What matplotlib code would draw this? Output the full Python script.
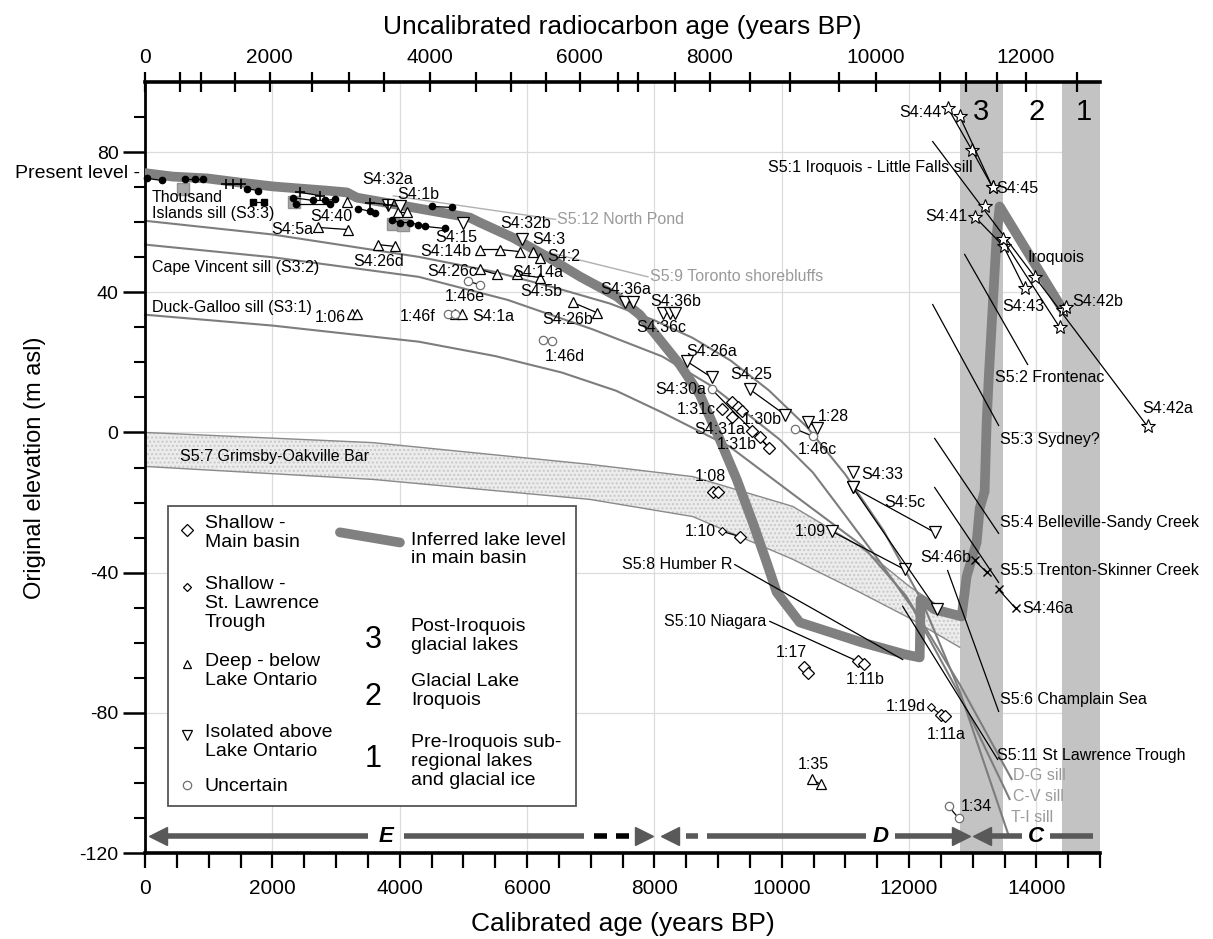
import matplotlib
matplotlib.use("Agg")
import matplotlib.pyplot as plt
from matplotlib import font_manager
from matplotlib.patches import Rectangle

# ---------------------------------------------------------------- fonts
_names = {f.name for f in font_manager.fontManager.ttflist}
SANS = "Liberation Sans" if "Liberation Sans" in _names else "DejaVu Sans"
NARROW = "Liberation Sans Narrow" if "Liberation Sans Narrow" in _names else SANS
plt.rcParams["font.family"] = SANS

# ---------------------------------------------------------------- data
# inferred lake level in main basin (calibrated yr BP, m asl)
LAKE_T = [0, 440, 973, 1492, 2010, 2857, 3171, 3328, 4113, 5103, 5260, 5778,
          6311, 6830, 7411, 7771, 8085, 8399, 8714, 9028, 9294, 9546, 9765, 9922,
          10284, 11257, 11932, 12168, 12183, 12403, 12827, 12905, 13062,
          13110, 13188, 13219, 13251, 13376, 13424, 14413]
LAKE_E = [74.0, 73.0, 72.5, 71.3, 70.2, 69.0, 68.5, 67.0, 64.5, 61.3, 59.9,
          55.6, 50.2, 44.5, 38.8, 33.6, 26.5, 19.4, 10.8, -2.0, -13.4, -25.7,
          -37.1, -45.6, -54.2, -59.9, -63.3, -64.2, -47.6, -50.5, -52.5, -41.1,
          -31.4, -21.7, -16.8, 2.6, 15.1, 55.9, 64.5, 35.1]

# sill curves
TI_T = [0, 2000, 4300, 5500, 6500, 7300, 8000, 8600, 9200, 9800, 10400, 11000,
        11600, 12200, 12800, 13565]
TI_E = [60.4, 56.5, 50.1, 45.8, 41.0, 36.8, 32.0, 27.0, 20.5, 12.0, 1.5, -12.0,
        -28.0, -48.0, -74.0, -115.0]
CV_T = [0, 2000, 4300, 5700, 7034, 8123, 8912, 9432, 9968, 10489, 11009, 11546,
        12066, 12800, 13580]
CV_E = [53.6, 50.0, 44.4, 37.8, 29.4, 21.7, 13.1, 5.7, -2.0, -11.4, -23.9, -37.0,
        -50.4, -75.0, -104.6]
DG_T = [0, 2000, 4300, 5500, 6546, 7400, 8123, 9180, 10221, 11278, 11956, 12800,
        13612]
DG_E = [33.6, 30.5, 25.9, 21.8, 17.1, 11.9, 5.7, -4.0, -18.2, -32.5, -46.7, -72.0,
        -98.9]

NORTH_POND_T = [3900, 6450]
NORTH_POND_E = [67.5, 60.8]
TORONTO_T = [6200, 7900]
TORONTO_E = [52.0, 44.4]

# S5:7 Grimsby-Oakville bar (band)
BAR_T = [0, 3580, 6987, 8604, 10174, 11226, 12011, 12796]
BAR_TOP = [0.0, -2.9, -9.1, -12.6, -21.1, -32.5, -44.0, -53.5]
BAR_BOT = [-9.7, -13.4, -19.1, -24.0, -36.2, -45.6, -53.0, -61.3]

# S5 shoreline lines (start t, start e, end t, end e)
S5_LINES = {
    "S5:1": (12372, 83.0, 15747, 1.7),
    "S5:2": (12874, 50.8, 13863, 19.4),
    "S5:3": (12372, 36.5, 13408, 2.0),
    "S5:4": (12403, -1.7, 13408, -28.8),
    "S5:5": (12403, -15.7, 13408, -42.8),
    "S5:6": (12607, -39.4, 13408, -79.6),
    "S5:11": (11900, -49.6, 13392, -93.3),
    "S5:8": (9263, -37.7, 11901, -64.8),
    "S5:10": (9813, -53.9, 11194, -65.3),
}

# point groups (joined by thin lines)
DEEP = [[(3171, 65.9)], [(2716, 58.5), (3187, 57.9)], [(3658, 53.6), (3925, 53.1)],
        [(3250, 33.7), (3328, 33.7)], [(4867, 33.7), (4977, 33.7)],
        [(3972, 62.8), (4113, 62.8)], [(5260, 52.2), (5574, 52.2), (5888, 51.6)],
        [(6092, 51.6)], [(6202, 49.9)], [(5840, 45.1), (6202, 44.2)],
        [(5260, 46.5), (5526, 45.1)], [(6720, 37.1), (7096, 34.2)],
        [(10472, -99.0), (10613, -100.4)]]
ISOLATED = [[(3815, 64.8), (4004, 64.5)], [(4993, 59.9)], [(5919, 55.1)],
            [(7536, 37.1), (7662, 37.1)], [(8133, 34.2), (8243, 34.2), (8321, 34.0)],
            [(8509, 20.3), (8902, 15.7)], [(9499, 12.3), (10048, 5.1)],
            [(10409, 3.1), (10550, 1.4)], [(10786, -28.2), (11932, -39.1)],
            [(11116, -11.4)], [(11116, -15.7), (12403, -28.5)],
            [(11116, -15.7), (12434, -50.5)]]
UNCERTAIN = [[(5071, 43.1), (5260, 42.2)], [(4757, 33.7), (4867, 33.7)],
             [(6249, 26.5), (6390, 26.0)], [(8902, 12.3), (9797, -4.3)],
             [(10205, 1.1), (10488, -1.1)], [(12623, -106.7), (12780, -110.1)]]
MAIN = [[(9059, 6.6)], [(9216, 4.3)], [(9216, 8.8), (9310, 7.4), (9373, 6.0)],
        [(9530, 0.3), (9656, -1.4), (9797, -4.3)], [(8918, -17.1), (8996, -17.1)],
        [(9342, -29.7)], [(10346, -67.0), (10409, -68.5)],
        [(11194, -65.3), (11288, -66.2)], [(12497, -80.5), (12560, -81.0)]]
TROUGH = [[(12340, -78.2), (12497, -80.5)], [(9059, -28.2), (9342, -29.7)]]
STARS = [[(12607, 92.7), (12984, 80.7), (13314, 69.9)], [(12796, 90.2), (13314, 69.9)],
         [(13031, 61.6), (13486, 53.1), (13816, 41.1)], [(13188, 64.5)],
         [(13973, 44.5)], [(13471, 55.1), (14366, 30.0)], [(14413, 34.8)],
         [(14460, 35.7)], [(15747, 1.7)]]
CROSSES = [[(13031, -36.5), (13219, -39.9)], [(13408, -44.8), (13675, -50.2)]]

# unlabelled historical points (filled black) and gray squares
DOTS = [[(31, 72.5), (267, 71.9)], [(628, 72.2), (785, 72.2), (911, 72.2)],
        [(1601, 69.6), (1774, 69.0)], [(2324, 67.0), (2638, 66.2), (2826, 66.2), (2983, 66.5)],
        [(2371, 65.3), (2905, 65.3)], [(3344, 63.9), (3533, 63.1), (3611, 62.5)],
        [(3878, 60.5), (4004, 59.9), (4161, 59.9), (4286, 59.3), (4396, 58.8), (4710, 58.2)],
        [(4506, 64.5), (4820, 64.2)]]
SQUARES = [[(1696, 65.9), (1868, 65.9)]]
PLUSES = [[(1272, 71.0), (1382, 71.0), (1507, 71.0)], [(2434, 68.5), (2748, 67.6)],
          [(3533, 65.6), (3815, 65.0)]]
GRAY_SQ_T = [597, 2339, 3894, 4051]
GRAY_SQ_E = [69.6, 65.9, 59.6, 59.1]

# lake phases (gray bands)
BAND3 = (12800, 13470)
BAND1 = (14400, 15000)

# upper axis: radiocarbon ages and their calibrated positions
RC_LABELS = [0, 2000, 4000, 6000, 8000, 10000, 12000]
RC_CAL = [0, 1957, 4477, 6825, 8868, 11474, 13834]
RC_MINOR_CAL = [550, 880, 1420, 2620, 3200, 3760, 5200, 5750, 6300, 7430, 7750,
                8320, 9510, 10130, 10900, 12490, 12890, 13390, 14640]

# ---------------------------------------------------------------- figure
fig = plt.figure(figsize=(12.13, 9.39), dpi=100)
ax = fig.add_axes([145 / 1213, (939 - 853) / 939, (1100 - 145) / 1213, (853 - 82) / 939])
ax.set_xlim(0, 15000)
ax.set_ylim(-120, 100)

GRID = "#dcdcdc"
for x in range(2000, 15000, 2000):
    ax.axvline(x, color=GRID, lw=0.9, zorder=0)
for y in (80, 40, 0, -40, -80):
    ax.axhline(y, color=GRID, lw=0.9, zorder=0)

ax.axvspan(*BAND3, color="#c3c3c3", lw=0, zorder=0.5)
ax.axvspan(*BAND1, color="#c3c3c3", lw=0, zorder=0.5)
for s, t in (("3", 13135), ("2", 14000), ("1", 14740)):
    ax.text(t, 91.5, s, fontsize=21, ha="center", va="center")

# Grimsby-Oakville bar band
ax.fill_between(BAR_T, BAR_TOP, BAR_BOT, facecolor="#ececec", edgecolor="#c8c8c8",
                hatch="....", lw=0, zorder=1)
ax.plot(BAR_T, BAR_TOP, color="#8a8a8a", lw=1.0, zorder=1.2)
ax.plot(BAR_T, BAR_BOT, color="#8a8a8a", lw=1.0, zorder=1.2)

# sills and gray shoreline lines
for tt, ee in ((TI_T, TI_E), (CV_T, CV_E), (DG_T, DG_E)):
    ax.plot(tt, ee, color="#7d7d7d", lw=1.5, zorder=2, clip_on=False)
ax.plot(NORTH_POND_T, NORTH_POND_E, color="#b0b0b0", lw=1.0, zorder=2)
ax.plot(TORONTO_T, TORONTO_E, color="#b0b0b0", lw=1.0, zorder=2)

# inferred lake level
ax.plot(LAKE_T, LAKE_E, color="#808080", lw=7, solid_capstyle="round",
        solid_joinstyle="round", zorder=3)

# S5 black lines
for t0, e0, t1, e1 in S5_LINES.values():
    ax.plot([t0, t1], [e0, e1], color="black", lw=0.9, zorder=4, clip_on=False)


def groups(gs, **kw):
    for g in gs:
        ax.plot([p[0] for p in g], [p[1] for p in g], color="black", lw=0.9,
                zorder=5, clip_on=False, **kw)


groups(DEEP, marker="^", ms=7, mfc="white", mec="black", mew=0.9)
groups(ISOLATED, marker="v", ms=8, mfc="white", mec="black", mew=0.9)
groups(UNCERTAIN, marker="o", ms=6, mfc="white", mec="#707070", mew=0.9)
groups(TROUGH, marker="D", ms=4, mfc="white", mec="black", mew=0.8)
groups(MAIN, marker="D", ms=6.5, mfc="white", mec="black", mew=0.9)
groups(STARS, marker="*", ms=10, mfc="white", mec="black", mew=0.8)
groups(CROSSES, marker="x", ms=6, mec="black", mew=1.0)
ax.plot(GRAY_SQ_T, GRAY_SQ_E, "s", ms=8, mfc="#a8a8a8", mec="#909090", zorder=4.5)
groups(DOTS, marker="o", ms=4.5, mfc="black", mec="black")
groups(SQUARES, marker="s", ms=4.5, mfc="black", mec="black")
groups(PLUSES, marker="+", ms=7, mec="black", mew=1.2)

# ---------------------------------------------------------------- labels
FS = 11.5
black_labels = [
    ("S4:32a", 3407, 72.2, "left"), ("S4:1b", 3956, 67.9, "left"),
    ("S4:40", 2590, 61.6, "left"), ("S4:5a", 2638, 57.9, "right"),
    ("S4:26d", 3266, 48.8, "left"), ("Thousand\nIslands sill (S3:3)", 110, 64.8, "left"),
    ("Cape Vincent sill (S3:2)", 110, 47.1, "left"),
    ("Duck-Galloo sill (S3:1)", 110, 35.7, "left"), ("1:06", 2669, 32.8, "left"),
    ("S4:15", 4553, 55.6, "left"), ("S4:14b", 4318, 51.6, "left"),
    ("S4:32b", 5574, 59.7, "left"), ("S4:3", 6076, 55.2, "left"),
    ("S4:2", 6311, 50.3, "left"), ("S4:14a", 5762, 45.5, "left"),
    ("S4:26c", 4427, 45.9, "left"), ("S4:5b", 5888, 40.2, "left"),
    ("1:46e", 4710, 38.8, "left"), ("1:46f", 4004, 33.1, "left"),
    ("S4:1a", 5134, 33.1, "left"), ("S4:26b", 6233, 32.2, "left"),
    ("1:46d", 6280, 21.7, "left"), ("S4:36a", 7144, 40.8, "left"),
    ("S4:36b", 7929, 37.4, "left"), ("S4:36c", 7724, 30.0, "left"),
    ("S4:26a", 8509, 23.1, "left"), ("S4:25", 9185, 16.5, "left"),
    ("S4:30a", 8007, 12.3, "left"), ("1:31c", 8352, 6.6, "left"),
    ("1:30b", 9373, 3.7, "left"), ("S4:31a", 8635, 0.9, "left"),
    ("1:31b", 8980, -3.4, "left"), ("1:28", 10566, 4.6, "left"),
    ("1:46c", 10252, -4.9, "left"), ("1:08", 8635, -12.6, "left"),
    ("1:10", 8478, -28.2, "left"), ("1:09", 10205, -28.2, "left"),
    ("S4:33", 11257, -12.0, "left"), ("S4:5c", 11618, -20.0, "left"),
    ("S4:46b", 12183, -35.7, "left"), ("S5:8 Humber R", 9232, -37.7, "right"),
    ("S5:10 Niagara", 9765, -53.9, "right"), ("1:17", 9907, -62.8, "left"),
    ("1:11b", 11006, -70.5, "left"), ("1:19d", 11634, -78.2, "left"),
    ("1:11a", 12277, -86.2, "left"), ("1:35", 10252, -94.7, "left"),
    ("1:34", 12811, -106.7, "left"),
    ("S5:11 St Lawrence Trough", 13376, -92.2, "left"),
    ("S5:6 Champlain Sea", 13424, -76.2, "left"), ("S4:46a", 13785, -50.2, "left"),
    ("S5:5 Trenton-Skinner Creek", 13424, -39.4, "left"),
    ("S5:4 Belleville-Sandy Creek", 13424, -25.7, "left"),
    ("S5:3 Sydney?", 13424, -2.0, "left"), ("S4:42a", 15669, 6.8, "left"),
    ("S5:2 Frontenac", 13345, 15.7, "left"), ("S4:43", 13471, 35.9, "left"),
    ("S4:42b", 14570, 37.4, "left"), ("Iroquois", 13863, 49.9, "left"),
    ("S4:41", 12921, 61.6, "right"), ("S4:45", 13376, 69.6, "left"),
    ("S5:1 Iroquois - Little Falls sill", 13000, 75.6, "right"),
    ("S4:44", 12513, 91.3, "right"), ("S5:7 Grimsby-Oakville Bar", 550, -6.8, "left"),
]
for txt, t, e, ha in black_labels:
    ax.text(t, e, txt, fontsize=FS, ha=ha, va="center", zorder=6, clip_on=False,
            linespacing=1.1)

gray_labels = [("S5:12 North Pond", 6468, 60.8), ("S5:9 Toronto shorebluffs", 7929, 44.5),
               ("D-G sill", 13631, -97.9), ("C-V sill", 13631, -103.9),
               ("T-I sill", 13600, -109.8)]
for txt, t, e in gray_labels:
    ax.text(t, e, txt, fontsize=FS, color="#9a9a9a", ha="left", va="center", zorder=6,
            clip_on=False)

ax.text(-80, 73.8, "Present level -", fontsize=14, ha="right", va="center", clip_on=False)

# ---------------------------------------------------------------- phase arrows
AC = "#595959"
YA = -115.2
for t0, t1 in ((250, 3500), (4070, 6900), (8820, 11330), (11780, 12760),
               (13230, 13780), (14210, 14890)):
    ax.plot([t0, t1], [YA, YA], color=AC, lw=4, solid_capstyle="butt", zorder=4)
for t0, t1 in ((7050, 7250), (7400, 7600)):
    ax.plot([t0, t1], [YA, YA], color="black", lw=4, solid_capstyle="butt", zorder=4)
ax.plot([8490, 8690], [YA, YA], color=AC, lw=4, solid_capstyle="butt", zorder=4)
for t, m in ((200, "<"), (7830, ">"), (8250, "<"), (12810, ">"), (13150, "<")):
    ax.plot(t, YA, marker=m, ms=13, color=AC, mec=AC, zorder=4)
for s, t in (("E", 3784), ("D", 11560), ("C", 13990)):
    ax.text(t, YA, s, fontsize=16, fontweight="bold", fontstyle="italic",
            ha="center", va="center", zorder=5)

# ---------------------------------------------------------------- legend box
ax.add_patch(Rectangle((361, -106.7), 6767 - 361, 85.6, fill=True, facecolor="white",
                       edgecolor="#555555", lw=1.3, zorder=7))
LFS = 14
leg_items = [("D", 6.5, -27.7, "Shallow -\nMain basin", -28.8),
             ("D", 4, -44.2, "Shallow -\nSt. Lawrence\nTrough", -48.8),
             ("^", 6, -66.2, "Deep - below\nLake Ontario", -68.2),
             ("v", 7, -86.2, "Isolated above\nLake Ontario", -88.4),
             ("o", 6, -100.7, "Uncertain", -101.0)]
for m, ms, em, txt, et in leg_items:
    ax.plot(659, em, marker=m, ms=ms, mfc="white", mec="#707070" if m == "o" else "black",
            mew=0.9, zorder=8)
    ax.text(942, et, txt, fontsize=LFS, va="center", ha="left", linespacing=1.15, zorder=8)
ax.plot([3062, 4004], [-28.5, -31.4], color="#808080", lw=7, solid_capstyle="round",
        zorder=8)
ax.text(4176, -33.4, "Inferred lake level\nin main basin", fontsize=LFS, va="center",
        linespacing=1.15, zorder=8)
for num, en, txt, et in (("3", -59.1, "Post-Iroquois\nglacial lakes", -58.2),
                         ("2", -75.6, "Glacial Lake\nIroquois", -73.9),
                         ("1", -93.3, "Pre-Iroquois sub-\nregional lakes\nand glacial ice", -93.9)):
    ax.text(3580, en, num, fontsize=22, ha="center", va="center", zorder=8)
    ax.text(4176, et, txt, fontsize=LFS, va="center", linespacing=1.15, zorder=8)

# ---------------------------------------------------------------- axes styling
for side in ("right", "top"):
    ax.spines[side].set_visible(False)
ax.spines["left"].set_linewidth(2)
ax.spines["bottom"].set_linewidth(2.6)

ax.set_xticks(range(0, 15000, 2000))
ax.set_xticks(range(500, 15001, 500), minor=True)
ax.set_yticks([80, 40, 0, -40, -80, -120])
ax.set_yticklabels(["80", "40", "0", "-40", "-80", "-120"])
ax.set_yticks(range(-110, 100, 10), minor=True)
ax.tick_params(axis="y", which="major", length=16, width=1.8, labelsize=14, pad=3)
ax.tick_params(axis="y", which="minor", length=8, width=1.5)
ax.tick_params(axis="x", which="both", length=11, width=1.6, labelsize=15, pad=8)
for lab in ax.get_xticklabels():
    lab.set_fontfamily(NARROW)
ax.set_xlabel("Calibrated age (years BP)", fontsize=19, family=NARROW, labelpad=10)
ax.set_ylabel("Original elevation (m asl)", fontsize=17, labelpad=24)

top = ax.twiny()
top.set_xlim(ax.get_xlim())
for side in ("right", "left", "bottom"):
    top.spines[side].set_visible(False)
top.spines["top"].set_linewidth(2.6)
top.set_xticks(RC_CAL)
top.set_xticklabels([str(v) for v in RC_LABELS])
top.set_xticks(RC_MINOR_CAL, minor=True)
top.tick_params(axis="x", which="both", direction="inout", length=14, width=1.6,
                labelsize=15, pad=4)
for lab in top.get_xticklabels():
    lab.set_fontfamily(NARROW)
top.set_xlabel("Uncalibrated radiocarbon age (years BP)", fontsize=19, family=NARROW,
               labelpad=10)

fig.savefig("out.png", dpi=100)
